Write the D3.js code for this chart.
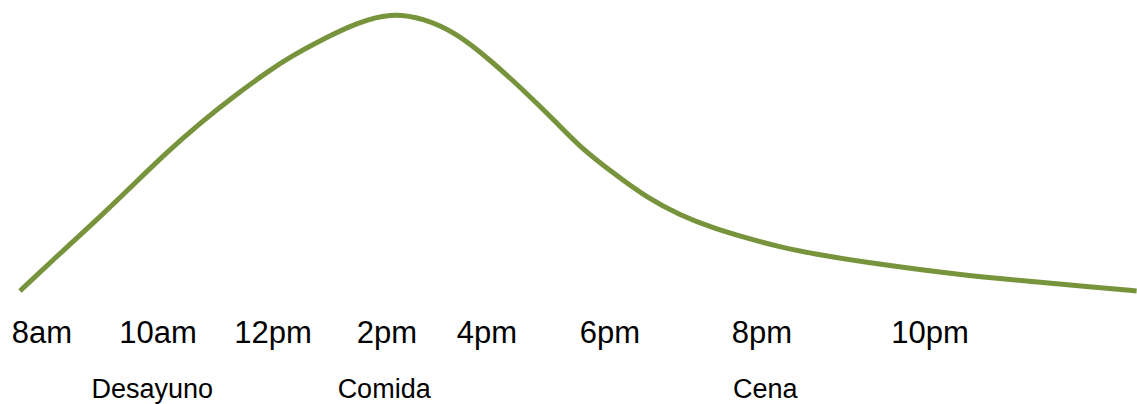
<!DOCTYPE html>
<html>
<head>
<meta charset="utf-8">
<script src="https://cdn.jsdelivr.net/npm/d3@7"></script>
<style>
  html, body { margin: 0; padding: 0; background: #fff; }
  svg { display: block; }
  text { font-family: "Liberation Sans", Arial, sans-serif; fill: #000; }
</style>
</head>
<body>
<script>
// Hour ticks and their labels
const tickHours = [8, 10, 12, 14, 16, 18, 20, 22];
const tickLabels = ["8am", "10am", "12pm", "2pm", "4pm", "6pm", "8pm", "10pm"];

// Meal annotations
const mealNames = ["Desayuno", "Comida", "Cena"];
const mealHours = [9.9, 13.95, 20.04];

// Curve: hour of day and relative level (0-100)
const curveHours  = [7.62, 8.43, 9.0, 9.57, 10.16, 10.73, 11.3, 11.9, 12.3, 12.88, 13.47, 14.06, 14.72, 15.4, 16.05, 16.59, 17.14, 17.51, 18.04, 18.49, 18.92, 19.36, 19.8, 20.21, 20.61, 21.29, 22.36, 23.15, 23.94, 24.46];
const curveLevels = [0, 15.9, 26.7, 38.3, 50.2, 60.6, 70.0, 79.1, 84.5, 91.0, 96.8, 100.4, 98.6, 93.1, 83.4, 72.6, 60.6, 52.0, 42.6, 33.6, 27.4, 22.7, 19.1, 15.9, 13.4, 10.1, 5.8, 3.6, 1.4, 0];

const W = 1137, H = 404;
const svg = d3.select("body").append("svg").attr("width", W).attr("height", H);

// Irregular (hand-placed) hour axis -> piecewise linear scale
const x = d3.scaleLinear()
  .domain(tickHours)
  .range([42, 158, 273, 387, 487, 610, 762, 930]);

const y = d3.scaleLinear().domain([0, 100]).range([291, 14]);

const pts = curveHours.map((h, i) => [h, curveLevels[i]]);
const line = d3.line()
  .x(d => x(d[0]))
  .y(d => y(d[1]))
  .curve(d3.curveBasis);

svg.append("path")
  .datum(pts)
  .attr("d", line)
  .attr("fill", "none")
  .attr("stroke", "#77933C")
  .attr("stroke-width", 5);

svg.append("g").selectAll("text")
  .data(tickHours)
  .join("text")
  .attr("x", d => x(d))
  .attr("y", 343)
  .attr("text-anchor", "middle")
  .attr("font-size", 31)
  .text((d, i) => tickLabels[i]);

svg.append("g").selectAll("text")
  .data(mealHours)
  .join("text")
  .attr("x", d => x(d))
  .attr("y", 398)
  .attr("text-anchor", "middle")
  .attr("font-size", 27)
  .text((d, i) => mealNames[i]);
</script>
</body>
</html>
